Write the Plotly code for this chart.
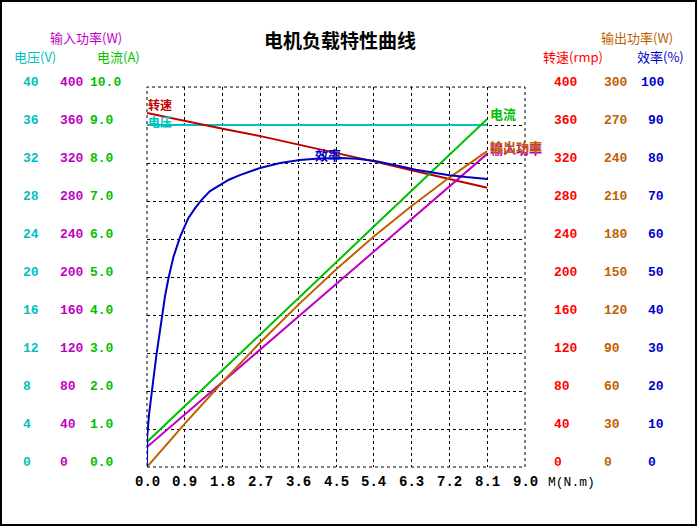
import plotly.graph_objects as go

# ---------------- data ----------------
torque = [0.0, 0.9, 1.8, 2.7, 3.6, 4.5, 5.4, 6.3, 7.2, 8.1]
voltage = [36, 36, 36, 36, 36, 36, 36, 36, 36, 36]
speed = [372.6, 364, 356, 348.3, 339.5, 331, 321.7, 312.4, 303, 294]
current = [0.66, 1.6, 2.55, 3.5, 4.44, 5.38, 6.33, 7.27, 8.22, 9.16]
power_in = [21, 55.3, 89.6, 123.9, 158.2, 192.5, 226.7, 261, 295.3, 329.6]
power_out = [0, 34.3, 67.1, 98.5, 128.0, 156.0, 181.9, 206.1, 228.5, 249.4]

eff_torque = [0, 0.005, 0.05, 0.1, 0.15, 0.23, 0.35, 0.43, 0.51, 0.63, 0.79, 0.98,
              1.15, 1.30, 1.5, 1.74, 1.95, 2.21, 2.45, 2.69, 3.17, 3.64, 4.1, 4.6,
              5.0, 5.43, 6.0, 6.4, 6.8, 7.2, 7.6, 8.1]
efficiency = [0, 8, 14, 19, 22.9, 29.9, 39.5, 45, 49.6, 55.3, 60.6, 65.4,
              68.2, 70.3, 72.6, 74.3, 75.6, 76.8, 77.8, 78.7, 80, 80.8, 81.2, 81.3,
              81.1, 80.5, 79.2, 78.2, 77.5, 76.8, 76.3, 75.8]

x_ticks = [0.0, 0.9, 1.8, 2.7, 3.6, 4.5, 5.4, 6.3, 7.2, 8.1, 9.0]
x_tick_text = ["0.0", "0.9", "1.8", "2.7", "3.6", "4.5", "5.4", "6.3", "7.2", "8.1", "9.0"]
volt_ticks = [0, 4, 8, 12, 16, 20, 24, 28, 32, 36, 40]
pin_ticks = [0, 40, 80, 120, 160, 200, 240, 280, 320, 360, 400]
cur_ticks = [0, 1, 2, 3, 4, 5, 6, 7, 8, 9, 10]
cur_tick_text = ["0.0", "1.0", "2.0", "3.0", "4.0", "5.0", "6.0", "7.0", "8.0", "9.0", "10.0"]
speed_ticks = [0, 40, 80, 120, 160, 200, 240, 280, 320, 360, 400]
pout_ticks = [0, 30, 60, 90, 120, 150, 180, 210, 240, 270, 300]
eff_ticks = [0, 10, 20, 30, 40, 50, 60, 70, 80, 90, 100]

# ---------------- styles ----------------
W, H = 698, 527
L, R, T, B = 147, 525, 87, 467
CYAN = "#00C0C0"
MAG = "#C000C0"
GREEN = "#00C000"
RED_L = "#C00000"
RED_T = "#FF0000"
BROWN = "#C06000"
BLUE_L = "#0000C0"
BLUE_T = "#0000CC"
NUMF = "Liberation Mono, DejaVu Sans Mono, monospace"
CJK = "SimSun, Noto Sans CJK SC, sans-serif"


def px(xp):
    return (xp - L) / (R - L)


def py(yp):
    return (B - yp) / (B - T)


fig = go.Figure()
fig.add_trace(go.Scatter(x=torque, y=voltage, yaxis="y", mode="lines",
                         line=dict(color=CYAN, width=2)))
fig.add_trace(go.Scatter(x=torque, y=speed, yaxis="y2", mode="lines",
                         line=dict(color=RED_L, width=2)))
fig.add_trace(go.Scatter(x=eff_torque, y=efficiency, yaxis="y6", mode="lines",
                         line=dict(color=BLUE_L, width=2)))
fig.add_trace(go.Scatter(x=torque, y=power_in, yaxis="y3", mode="lines",
                         line=dict(color=MAG, width=2)))
fig.add_trace(go.Scatter(x=torque, y=power_out, yaxis="y5", mode="lines",
                         line=dict(color=BROWN, width=2)))
fig.add_trace(go.Scatter(x=torque, y=current, yaxis="y4", mode="lines",
                         line=dict(color=GREEN, width=2)))

ann = []
# tick label columns
cols = [
    ("y", volt_ticks, [str(v) for v in volt_ticks], 21, CYAN),
    ("y3", pin_ticks, [str(v) for v in pin_ticks], 58, MAG),
    ("y4", cur_ticks, cur_tick_text, 88, GREEN),
    ("y2", speed_ticks, [str(v) for v in speed_ticks], 552, RED_T),
    ("y5", pout_ticks, [str(v) for v in pout_ticks], 602, BROWN),
    ("y6", eff_ticks, [str(v) for v in eff_ticks], 646, BLUE_T),
]
for yref, vals, texts, xl, col in cols:
    for v, t in zip(vals, texts):
        xx = xl - 7 if (yref == "y6" and t == "100") else xl
        ann.append(dict(x=px(xx), xref="paper", y=v, yref=yref, text="<b>%s</b>" % t,
                        xanchor="left", yanchor="middle", yshift=4.5, showarrow=False,
                        font=dict(family=NUMF, size=13, color=col)))

for v, t in zip(x_ticks, x_tick_text):
    ann.append(dict(x=v, xref="x", y=py(482), yref="paper", text="<b>%s</b>" % t,
                    xanchor="center", yanchor="middle", showarrow=False,
                    font=dict(family=NUMF, size=14, color="black")))
ann.append(dict(x=px(571), xref="paper", y=py(482), yref="paper", text="M(N.m)",
                xanchor="center", yanchor="middle", showarrow=False,
                font=dict(family=NUMF, size=13, color="black")))

# headers
hdrs = [
    ("输入功率(W)", 86, 37.5, MAG),
    ("电压(V)", 35, 56.5, CYAN),
    ("电流(A)", 118, 56.5, GREEN),
    ("输出功率(W)", 637, 37.5, BROWN),
    ("转速(rmp)", 573, 56.5, RED_T),
    ("效率(%)", 660, 56.5, BLUE_T),
]
for t, xx, yy, col in hdrs:
    ann.append(dict(x=px(xx), xref="paper", y=py(yy), yref="paper", text=t,
                    xanchor="center", yanchor="middle", showarrow=False,
                    font=dict(family=CJK, size=13, color=col)))

# title
ann.append(dict(x=px(340), xref="paper", y=py(40), yref="paper", text="<b>电机负载特性曲线</b>",
                xanchor="center", yanchor="middle", showarrow=False,
                font=dict(family=CJK, size=19, color="black")))

# curve labels
labs = [
    ("转速", 146, 104, RED_L, 12),
    ("电压", 146, 122, CYAN, 12),
    ("效率", 313, 154, BLUE_L, 13),
    ("电流", 488, 113, GREEN, 13),
    ("输入功率", 488, 149, MAG, 13),
    ("输出功率", 488, 146, BROWN, 13),
]
for t, xx, yy, col, fs in labs:
    ann.append(dict(x=px(xx), xref="paper", y=py(yy), yref="paper", text="<b>%s</b>" % t,
                    xanchor="left", yanchor="middle", showarrow=False,
                    font=dict(family=CJK, size=fs, color=col)))

shapes = [
    dict(type="rect", xref="paper", yref="paper", x0=px(1), x1=px(696), y0=py(1), y1=py(525),
         line=dict(color="black", width=2), layer="below"),
    dict(type="rect", xref="paper", yref="paper", x0=0, x1=1, y0=0, y1=1,
         line=dict(color="black", width=1, dash="3px,3px"), layer="below"),
]

grid = dict(showgrid=True, gridcolor="black", gridwidth=1, griddash="3px,3px",
            zeroline=False, showline=False, showticklabels=False, ticks="")
hidden = dict(overlaying="y", visible=False, showgrid=False, zeroline=False)

fig.update_layout(
    width=W, height=H,
    margin=dict(l=L, r=W - R, t=T, b=H - B),
    paper_bgcolor="white", plot_bgcolor="white",
    showlegend=False,
    xaxis=dict(range=[0, 9], tickvals=x_ticks, **grid),
    yaxis=dict(range=[0, 40], tickvals=volt_ticks, **grid),
    yaxis2=dict(range=[0, 400], **hidden),
    yaxis3=dict(range=[0, 400], **hidden),
    yaxis4=dict(range=[0, 10], **hidden),
    yaxis5=dict(range=[0, 300], **hidden),
    yaxis6=dict(range=[0, 100], **hidden),
    annotations=ann,
    shapes=shapes,
)

fig.write_html("out.html")
